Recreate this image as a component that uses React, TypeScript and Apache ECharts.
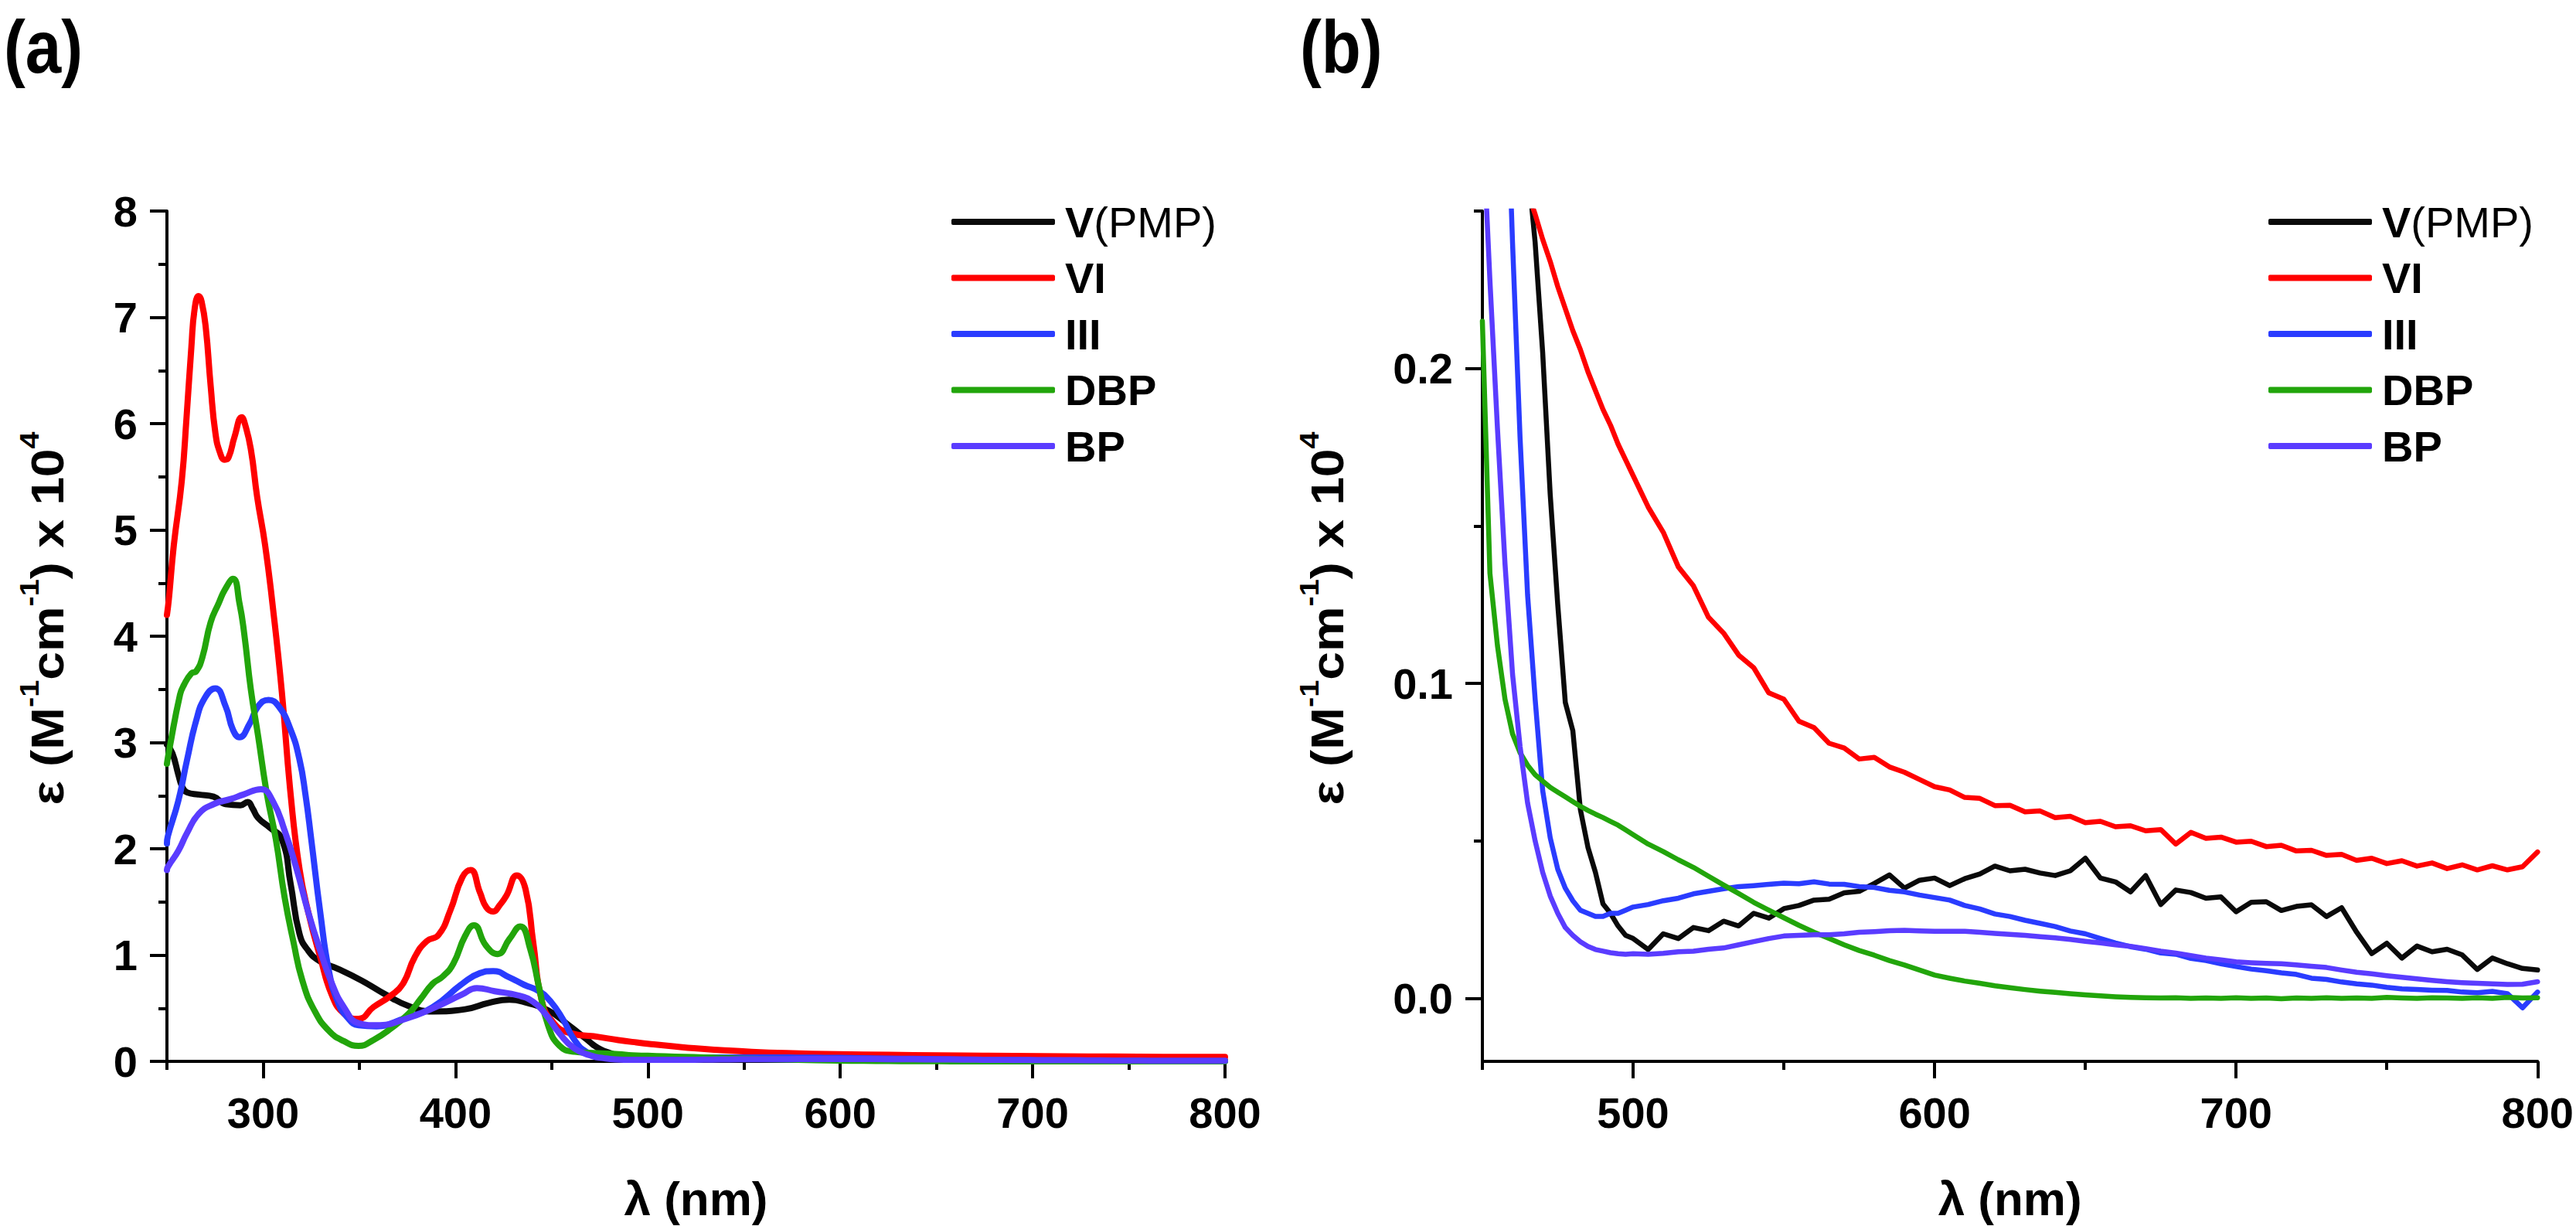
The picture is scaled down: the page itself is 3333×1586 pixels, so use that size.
import React, { useEffect, useRef } from 'react';
import * as echarts from 'echarts';

const FONT = '"Liberation Sans", Arial, Helvetica, sans-serif';

const SERIES_NAMES = ['V(PMP)', 'VI', 'III', 'DBP', 'BP'];
const COLORS = ['#0a0a0a', '#ff0000', '#2a3cff', '#22a50b', '#5a3cff'];

// ---------- panel (a): [wavelength nm, epsilon x 10^4] ----------
const aV = [[250,2.98],[252.8,2.90],[255.9,2.70],[258,2.58],[260.5,2.53],[266.6,2.51],[274.3,2.49],[280.5,2.42],[288.2,2.41],[292,2.44],[294.5,2.38],[297.4,2.29],[303.4,2.20],[309.7,2.09],[314.3,1.67],[318.9,1.20],[323.5,1.04],[329.7,0.94],[338.9,0.87],[351.2,0.76],[363.5,0.63],[375.7,0.52],[388.1,0.47],[405,0.49],[417.3,0.55],[428,0.58],[437.3,0.55],[448.1,0.48],[458.8,0.34],[468,0.21],[472,0.15],[475.7,0.11],[480,0.08],[485,0.048],[490,0.03],[495,0.022],[500,0.019],[507,0.016],[512,0.02],[524,0.023],[534,0.025],[543,0.026],[553,0.03],[563,0.032],[573,0.034],[587,0.037],[599,0.038],[612,0.038],[621,0.042],[631,0.041],[651,0.039],[667,0.036],[685,0.0335],[702,0.028],[716,0.028],[729,0.026],[739,0.024],[745,0.014],[762,0.016],[782,0.01],[800,0.008]];
const aVI = [[250,4.2],[251,4.35],[253.6,4.86],[257.7,5.46],[260.2,6.06],[262.7,6.72],[264.4,7.08],[266.5,7.2],[268,7.15],[270.2,6.9],[272.7,6.36],[275.2,5.91],[277.7,5.72],[280,5.66],[282,5.68],[285.2,5.88],[288.9,6.06],[290.5,6.0],[293.6,5.76],[296.9,5.31],[301,4.86],[305.2,4.25],[309.7,3.48],[314.3,2.51],[318.9,1.81],[323.5,1.40],[329.7,0.98],[335.8,0.62],[342,0.45],[349.6,0.40],[357.3,0.51],[366.5,0.62],[372.7,0.73],[378.8,0.98],[385,1.13],[391.2,1.19],[397.3,1.42],[403.5,1.73],[407.8,1.80],[412.7,1.59],[416,1.45],[419.6,1.41],[423,1.47],[426.5,1.56],[431.9,1.75],[436.4,1.62],[440.4,1.12],[445,0.56],[451.1,0.36],[458.8,0.27],[474.2,0.23],[484.6,0.20],[494,0.178],[504,0.158],[514,0.14],[524,0.123],[538,0.106],[554,0.09],[572,0.078],[599,0.067],[625,0.061],[651,0.056],[677,0.053],[703,0.050],[729,0.046],[755,0.044],[781,0.042],[800,0.042]];
const aIII = [[250,2.05],[250.5,2.12],[255.9,2.45],[260.5,2.84],[265.1,3.20],[269.7,3.42],[275.1,3.51],[280.5,3.34],[284.3,3.12],[287.7,3.05],[292.8,3.17],[297.4,3.34],[302.8,3.40],[308.1,3.34],[314.3,3.12],[318.9,2.84],[322,2.51],[325,2.09],[329.7,1.40],[334.3,0.84],[338.8,0.56],[343.5,0.42],[349.6,0.34],[358.9,0.33],[372.7,0.40],[388.1,0.51],[403.5,0.73],[412.7,0.83],[419.6,0.85],[428,0.79],[435.7,0.72],[443.4,0.66],[449.6,0.56],[455.7,0.40],[461.9,0.20],[468,0.09],[477.2,0.036],[486.5,0.026],[494,0.027],[504,0.03],[514,0.032],[524,0.034],[533,0.035],[543,0.036],[553,0.0366],[563,0.0366],[573,0.0357],[582,0.0347],[592,0.0333],[599,0.032],[612,0.0293],[625,0.026],[638,0.0231],[651,0.0203],[664,0.0166],[677,0.0142],[690,0.0119],[703,0.0095],[716,0.0081],[729,0.0058],[742,0.0044],[755,0.003],[768,0.0025],[782,0.0016],[800,0.002]];
const aDBP = [[250,2.8],[251.2,2.93],[256.8,3.45],[258.8,3.54],[262.7,3.65],[265.2,3.67],[268.4,3.80],[272.7,4.13],[276.9,4.31],[280.2,4.44],[284.4,4.54],[287.7,4.31],[290.2,4.02],[293.6,3.5],[297.4,3.06],[302,2.51],[306.6,2.09],[311.2,1.54],[315.8,1.12],[320.4,0.76],[326.6,0.48],[334.3,0.285],[342,0.19],[349.6,0.146],[357.3,0.20],[366.5,0.31],[375.7,0.45],[382,0.59],[388.1,0.73],[393.5,0.80],[398.9,0.92],[405,1.18],[409.6,1.28],[415.8,1.09],[421.9,1.01],[428,1.15],[433.7,1.27],[438.8,1.06],[443.4,0.70],[448.1,0.34],[454.1,0.146],[461.9,0.09],[474.2,0.077],[484.6,0.068],[492,0.056],[500,0.052],[509,0.047],[519,0.042],[529,0.037],[538,0.031],[548,0.026],[558,0.022],[568,0.018],[578,0.014],[587,0.011],[599,0.007],[612,0.005],[625,0.0034],[638,0.002],[651,0.001],[664,0.0003],[700,0],[800,0]];
const aBP = [[250,1.8],[250.5,1.83],[255.9,1.98],[260.5,2.15],[266.6,2.33],[274.3,2.42],[283.5,2.47],[289.7,2.51],[298.9,2.56],[305,2.45],[311.2,2.17],[317.4,1.81],[323.5,1.40],[329.7,1.04],[335.8,0.73],[342,0.51],[349.6,0.36],[358.9,0.34],[374.1,0.40],[389.6,0.51],[403.5,0.63],[411.1,0.69],[420.3,0.66],[432.7,0.62],[440.4,0.56],[446.5,0.45],[454.2,0.26],[461.9,0.12],[471.1,0.05],[477,0.03],[483,0.018],[489,0.015],[499,0.014],[509,0.014],[519,0.015],[529,0.016],[538,0.0175],[548,0.0197],[558,0.0202],[568,0.0202],[578,0.0212],[587,0.0216],[599,0.0213],[612,0.0213],[625,0.0203],[638,0.0194],[651,0.018],[664,0.0166],[677,0.0147],[690,0.0128],[703,0.0114],[716,0.011],[729,0.01],[742,0.0081],[755,0.0067],[768,0.0053],[782,0.0048],[800,0.005]];

// ---------- panel (b): wavelengths and values (x 10^4) ----------
const bWl = [450,452.5,455,457.5,460,462.5,465,467.5,470,472.5,475,477.5,480,482.5,485,487.5,490,492.5,495,497.5,500,505,510,515,520,525,530,535,540,545,550,555,560,565,570,575,580,585,590,595,600,605,610,615,620,625,630,635,640,645,650,655,660,665,670,675,680,685,690,695,700,705,710,715,720,725,730,735,740,745,750,755,760,765,770,775,780,785,790,795,800];
const bV = [0.46,0.43,0.40,0.37,0.33,0.30,0.265,0.24,0.205,0.16,0.125,0.094,0.085,0.06,0.048,0.040,0.030,0.027,0.023,0.020,0.019,
  0.0155,0.0205,0.019,0.0225,0.0215,0.0245,0.023,0.027,0.0255,0.0285,0.0295,0.0312,0.0315,0.0335,0.034,0.0365,0.0392,0.035,0.0375,0.0382,
  0.0358,0.038,0.0395,0.042,0.0405,0.041,0.0398,0.039,0.0405,0.0445,0.0382,0.037,0.0338,0.039,0.0298,0.0344,0.0336,0.0318,0.0322,0.0275,
  0.0305,0.0307,0.0279,0.0292,0.0297,0.026,0.0288,0.021,0.0142,0.0175,0.0128,0.0166,0.0148,0.0156,0.0138,0.0092,0.0128,0.011,0.0095,0.009];
const bVI = [0.36,0.33,0.31,0.29,0.275,0.265,0.256,0.249,0.241,0.234,0.226,0.219,0.212,0.206,0.199,0.193,0.187,0.182,0.176,0.171,0.166,
  0.156,0.148,0.137,0.131,0.121,0.116,0.109,0.105,0.097,0.095,0.088,0.086,0.081,0.0795,0.076,0.0765,0.0735,0.0718,0.0695,0.0672,
  0.0662,0.0638,0.0635,0.0612,0.0613,0.0592,0.0595,0.0574,0.0578,0.0558,0.0562,0.0545,0.0548,0.0532,0.0536,0.049,0.0527,0.0508,0.0512,0.0496,
  0.0499,0.0482,0.0486,0.0468,0.047,0.0454,0.0457,0.0438,0.0445,0.0428,0.0437,0.042,0.043,0.0412,0.0424,0.0408,0.0421,0.0408,0.0418,0.0465];
const bIII = [0.55,0.48,0.40,0.31,0.24,0.178,0.128,0.095,0.066,0.051,0.041,0.035,0.031,0.028,0.027,0.026,0.026,0.027,0.027,0.028,0.029,
  0.0298,0.031,0.0318,0.0332,0.034,0.0348,0.0355,0.0358,0.0362,0.0366,0.0364,0.037,0.0363,0.0362,0.0355,0.0352,0.0343,0.0338,0.0328,0.032,
  0.0312,0.0295,0.0284,0.0268,0.026,0.0248,0.0238,0.0228,0.0214,0.0205,0.019,0.0176,0.0164,0.0156,0.0144,0.014,0.0127,0.012,0.011,0.0101,
  0.0093,0.0088,0.0081,0.0076,0.0064,0.006,0.0052,0.0046,0.0042,0.0035,0.003,0.0028,0.0026,0.0025,0.002,0.0018,0.0022,0.0015,-0.003,0.002];
const bDBP = [0.215,0.135,0.112,0.095,0.084,0.078,0.074,0.071,0.069,0.067,0.0655,0.064,0.0625,0.061,0.0597,0.0585,0.0574,0.0562,0.055,0.0535,0.052,
  0.049,0.0466,0.044,0.0416,0.0388,0.036,0.0333,0.0305,0.028,0.0256,0.0232,0.021,0.019,0.017,0.0152,0.0137,0.012,0.0106,0.009,0.0074,
  0.0064,0.0055,0.0048,0.004,0.0034,0.0028,0.0023,0.0019,0.0015,0.0011,0.0008,0.0005,0.0003,0.0002,0.0001,0.0002,0.0,0.0001,0.0,0.0002,
  0.0,0.0001,-0.0001,0.0001,0.0,0.0002,0.0,0.0001,0.0,0.0003,0.0001,0.0,0.0002,0.0001,0.0,0.0002,0.0,0.0003,0.0001,0.0002];
const bBP = [0.28,0.228,0.181,0.138,0.103,0.080,0.062,0.050,0.040,0.0325,0.027,0.0225,0.020,0.018,0.0165,0.0155,0.015,0.0145,0.0142,0.014,0.0142,
  0.014,0.0143,0.0148,0.015,0.0156,0.016,0.017,0.018,0.019,0.0198,0.020,0.0202,0.0202,0.0205,0.021,0.0212,0.0215,0.0216,0.0214,0.0213,
  0.0213,0.0213,0.021,0.0206,0.0203,0.020,0.0196,0.0192,0.0187,0.0181,0.0176,0.017,0.0165,0.0158,0.015,0.0144,0.0136,0.0128,0.0122,0.0116,
  0.0113,0.0111,0.011,0.0106,0.0102,0.0098,0.009,0.0083,0.0078,0.0072,0.0067,0.0062,0.0057,0.0053,0.005,0.0048,0.0046,0.0044,0.0045,0.0053];

// ---------- ticks ----------
const aXMajor = [300, 400, 500, 600, 700, 800];
const aXMinor = [250, 350, 450, 550, 650, 750];
const aYMajor = [0, 1, 2, 3, 4, 5, 6, 7, 8];
const aYMinor = [0.5, 1.5, 2.5, 3.5, 4.5, 5.5, 6.5, 7.5];
const bXMajor = [500, 600, 700, 800];
const bXMinor = [450, 550, 650, 750];
const bYMajor = [0, 0.1, 0.2];
const bYMinor = [0.05, 0.15, 0.25];

const BLACK = '#000';
const lineStyleAxis = { color: BLACK, width: 4 };
const labelStyle = { fontSize: 56, fontWeight: 'bold', fontFamily: FONT, color: BLACK };

function majorAxis(gridIndex: number, min: number, max: number, pos: string, ticks: number[], fmt: (v: number) => string, extra: any = {}) {
  return {
    type: 'value', gridIndex, min, max, position: pos,
    axisLine: { show: true, onZero: false, lineStyle: lineStyleAxis },
    axisTick: { show: true, inside: false, length: 22, lineStyle: lineStyleAxis, customValues: ticks },
    axisLabel: { show: true, customValues: ticks, margin: 38, formatter: fmt, ...labelStyle },
    splitLine: { show: false },
    ...extra,
  };
}
function minorAxis(gridIndex: number, min: number, max: number, pos: string, ticks: number[]) {
  return {
    type: 'value', gridIndex, min, max, position: pos,
    axisLine: { show: false, onZero: false },
    axisTick: { show: true, inside: false, length: 11, lineStyle: lineStyleAxis, customValues: ticks },
    axisLabel: { show: false },
    splitLine: { show: false },
  };
}

const xName = {
  name: 'λ (nm)', nameLocation: 'middle', nameGap: 146,
  nameTextStyle: { fontSize: 62, fontWeight: 'bold', fontFamily: FONT, color: BLACK },
};

function line(name: string, color: string, data: number[][], xi: number, yi: number, width: number, smooth: number) {
  return {
    type: 'line', name, data, xAxisIndex: xi, yAxisIndex: yi,
    showSymbol: false, symbol: 'none', smooth,
    lineStyle: { color, width, join: 'round', cap: 'round' },
    itemStyle: { color }, emphasis: { disabled: true }, silent: true, clip: true,
  };
}

const richLegend = {
  bp: { fontSize: 56, fontWeight: 'bold', fontFamily: FONT, color: BLACK, lineHeight: 56, padding: [0, 0, 0, 8] },
  n: { fontSize: 56, fontWeight: 'normal', fontFamily: FONT, color: BLACK, lineHeight: 56 },
};
const legendFmt = (name: string) => (name === 'V(PMP)' ? '{bp|V}{n|(PMP)}' : `{bp|${name}}`);

function legendAt(left: number) {
  return {
    left, top: 254, orient: 'vertical', data: SERIES_NAMES, icon: 'roundRect',
    itemWidth: 134, itemHeight: 8, itemGap: 16.5, selectedMode: false,
    formatter: legendFmt, textStyle: { rich: richLegend, color: BLACK },
  };
}

const yTitleRich = {
  m: { fontSize: 60, fontWeight: 'bold', fontFamily: FONT, fill: BLACK, lineHeight: 60 },
  s: { fontSize: 36, fontWeight: 'bold', fontFamily: FONT, fill: BLACK, lineHeight: 36, padding: [0, 0, 46, 0] },
};
const yTitleText = '{m|ε (M}{s|-1}{m|cm}{s|-1}{m|) x 10}{s|4}';

function yTitle(x: number) {
  return {
    type: 'text', x, y: 800, rotation: Math.PI / 2, scaleX: 1.1,
    style: { text: yTitleText, rich: yTitleRich, align: 'center', verticalAlign: 'middle', fill: BLACK },
  };
}
function panelLabel(x: number, t: string) {
  return {
    type: 'text', x, y: 6, scaleX: 0.87,
    style: { text: t, fontSize: 96, lineHeight: 110, fontWeight: 'bold', fontFamily: FONT, fill: BLACK, align: 'left', verticalAlign: 'top' },
  };
}

function buildOption() {
  const aData = [aV, aVI, aIII, aDBP, aBP];
  const bVals = [bV, bVI, bIII, bDBP, bBP];
  const series: any[] = [];
  SERIES_NAMES.forEach((n, i) => series.push(line(n, COLORS[i], aData[i], 0, 0, 8, 0.5)));
  SERIES_NAMES.forEach((n, i) => series.push(line(n, COLORS[i], bWl.map((w, k) => [w, bVals[i][k]]), 2, 2, 6.5, 0)));
  return {
    animation: false,
    backgroundColor: '#ffffff',
    grid: [
      { left: 216, top: 273, width: 1369, height: 1102, containLabel: false },
      { left: 1918, top: 273, width: 1369, height: 1103, containLabel: false },
    ],
    xAxis: [
      majorAxis(0, 250, 800, 'bottom', aXMajor, (v) => String(v), xName),
      minorAxis(0, 250, 800, 'bottom', aXMinor),
      majorAxis(1, 450, 800, 'bottom', bXMajor, (v) => String(v), xName),
      minorAxis(1, 450, 800, 'bottom', bXMinor),
    ],
    yAxis: [
      majorAxis(0, 0, 8, 'left', aYMajor, (v) => String(v)),
      minorAxis(0, 0, 8, 'left', aYMinor),
      majorAxis(1, -0.02, 0.25, 'left', bYMajor, (v) => v.toFixed(1)),
      minorAxis(1, -0.02, 0.25, 'left', bYMinor),
    ],
    legend: [legendAt(1226), legendAt(2930)],
    graphic: [panelLabel(5, '(a)'), panelLabel(1682, '(b)'), yTitle(61), yTitle(1717)],
    series,
  };
}

export default function App() {
  const ref = useRef<HTMLDivElement>(null);
  useEffect(() => {
    if (!ref.current) return;
    const chart = echarts.init(ref.current, null, { renderer: 'svg' });
    chart.setOption(buildOption() as any);
    return () => chart.dispose();
  }, []);
  return (
    <div
      ref={ref}
      style={{ position: 'fixed', left: 0, top: 0, width: 3333, height: 1586, background: '#fff' }}
    />
  );
}
